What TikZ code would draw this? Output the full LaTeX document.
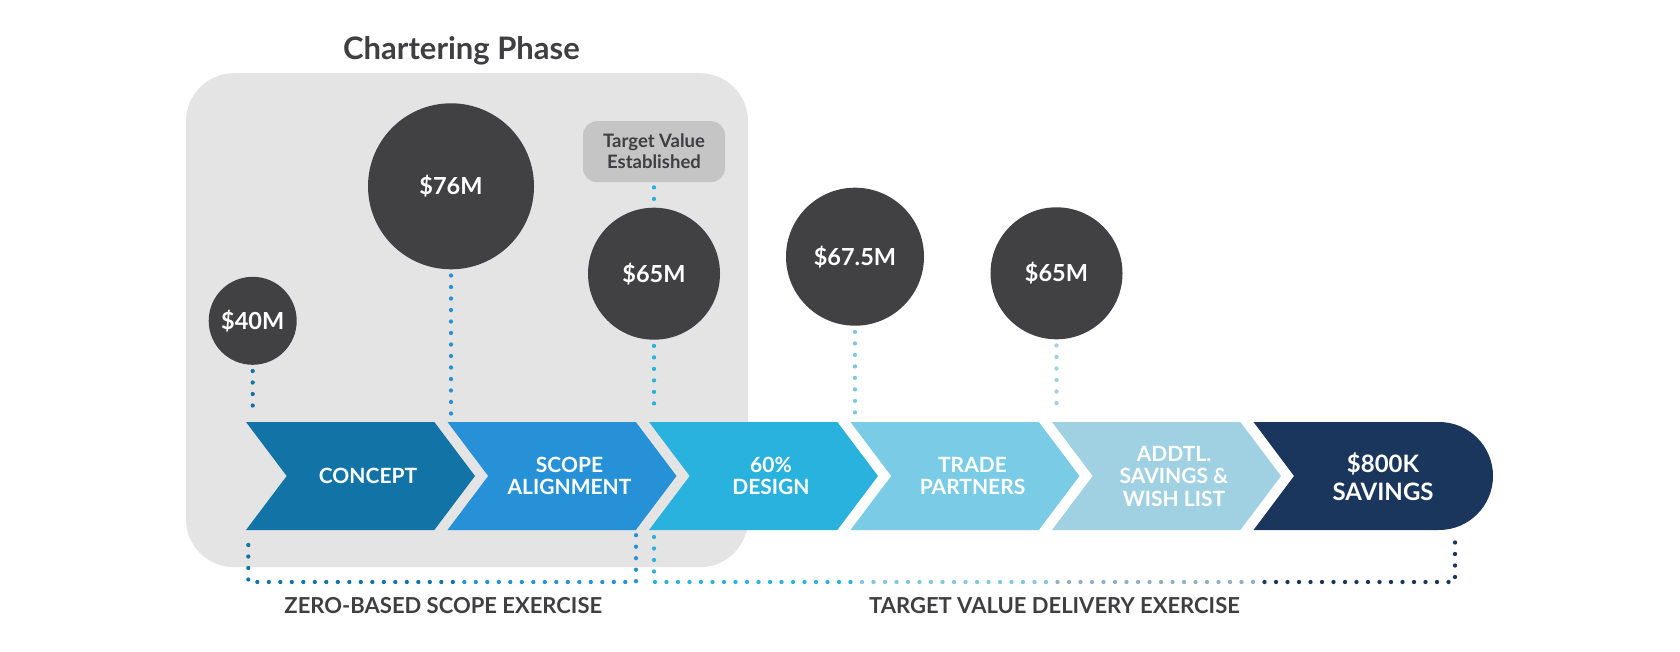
\documentclass[tikz,border=0pt]{standalone}
\usepackage{fontspec}
\setmainfont{Lato}
\usepackage{tikz}
\usetikzlibrary{positioning,shapes.symbols}
\usepackage{xcolor}

\definecolor{darkcirc}{HTML}{414143}
\definecolor{panelgray}{HTML}{E5E4E4}
\definecolor{taggray}{HTML}{C5C5C5}
\definecolor{inkgray}{HTML}{3F3F41}
\definecolor{colConcept}{HTML}{1274A6}
\definecolor{colScope}{HTML}{2691D6}
\definecolor{colDesign}{HTML}{2AB2DF}
\definecolor{colTrade}{HTML}{7ACCE6}
\definecolor{colAddtl}{HTML}{A0D1E2}
\definecolor{colSave}{HTML}{1B365C}
\definecolor{dotTrade}{HTML}{80C6DF}
\definecolor{dotAddtl}{HTML}{8FB0C4}

\begin{document}
\begin{tikzpicture}[
    x=1pt, y=-1pt,
    panel/.style={fill=panelgray, rounded corners=48pt, minimum width=562pt, minimum height=494pt, inner sep=0pt},
    phase/.style={text=inkgray, font=\bfseries\fontsize{31}{36}\selectfont, anchor=base},
    money/.style={circle, fill=darkcirc, text=white, inner sep=0pt, text height=16.8pt, text depth=0pt, font=\bfseries\fontsize{23.5}{26}\selectfont},
    tag/.style={fill=taggray, rounded corners=14pt, minimum width=142pt, minimum height=61pt, inner sep=0pt, align=center, text=inkgray, font=\bfseries\fontsize{18.5}{21}\selectfont},
    chev/.style={signal, signal from=west, signal to=east, signal pointer angle=106, minimum width=229pt, minimum height=108pt, inner sep=0pt, outer sep=0pt},
    chevtext/.style={text=white, align=center, font=\bfseries\fontsize{21}{22.5}\selectfont},
    exercise/.style={text=inkgray, font=\bfseries\fontsize{22}{26}\selectfont, anchor=base},
    dots/.style={line width=4.3pt, line cap=round, dash pattern=on 0pt off 11.5pt}
]
    \useasboundingbox (0,0) rectangle (1680,652);

    \node[panel] (charter) at (467,320.2) {};
    \node[phase] (phase) at (461.5,60) {Chartering Phase};

    \node[chev, fill=colConcept] (concept) at (360.5,476) {};
    \node[chev, fill=colScope] (scope) at (562,476) {};
    \node[chev, fill=colDesign] (design) at (763.5,476) {};
    \node[chev, fill=colTrade] (trade) at (965,476) {};
    \node[chev, fill=colAddtl] (addtl) at (1166.5,476) {};
    \fill[colSave] (1253.5,422) -- (1439,422) arc[start angle=90, end angle=-90, radius=54pt] -- (1253.5,530) -- (1294,476) -- cycle;

    \node[chevtext] (concept-t) at ([xshift=7.5pt]concept.center) {CONCEPT};
    \node[chevtext] (scope-t) at ([xshift=7.5pt]scope.center) {SCOPE\\ALIGNMENT};
    \node[chevtext] (design-t) at ([xshift=7.5pt]design.center) {60\%\\DESIGN};
    \node[chevtext] (trade-t) at ([xshift=7.5pt]trade.center) {TRADE\\PARTNERS};
    \node[chevtext] (addtl-t) at ([xshift=7.5pt]addtl.center) {ADDTL.\\SAVINGS \&\\WISH LIST};
    \node[chevtext, font=\bfseries\fontsize{24}{28}\selectfont] (savings) at (1383,477) {\$800K\\SAVINGS};

    \node[money, minimum size=88pt] (c40) at (252.7,320.8) {\$40M};
    \node[money, minimum size=166pt] (c76) at (451,186.3) {\$76M};
    \node[money, minimum size=132pt] (c65a) at (654,273.7) {\$65M};
    \node[money, minimum size=138pt] (c67) at (855,256.7) {\$67.5M};
    \node[money, minimum size=132pt] (c65b) at (1056.5,273.3) {\$65M};
    \node[tag] (target) at (654,151.7) {Target Value\\Established};

    \draw[dots, colConcept, shorten <=6pt, shorten >=8pt] (c40) -- (c40 |- concept.north);
    \draw[dots, colScope, shorten <=6pt, shorten >=8pt] (c76) -- (c76 |- scope.north);
    \draw[dots, colDesign, shorten <=6pt, shorten >=8pt] (c65a) -- (c65a |- design.north);
    \draw[dots, colDesign, shorten <=5pt, shorten >=8pt] (target) -- (c65a);
    \draw[dots, dotTrade, shorten <=6pt, shorten >=8pt] (c67) -- (c67 |- trade.north);
    \draw[dots, colAddtl, shorten <=6pt, shorten >=8pt] (c65b) -- (c65b |- addtl.north);

    \coordinate (zb1) at (248.3,545);
    \coordinate (zb2) at (452.8,582);
    \coordinate (zb3) at (464.3,582);
    \coordinate (zb4) at (636,535);
    \draw[dots, colConcept] (zb1) |- (zb2);
    \draw[dots, colScope] (zb3) -| (zb4);

    \coordinate (tb1) at (654,537);
    \coordinate (tb2) at (850.5,582);
    \coordinate (tb3) at (862,582);
    \coordinate (tb4) at (1046,582);
    \coordinate (tb5) at (1057.5,582);
    \coordinate (tb6) at (1253,582);
    \coordinate (tb7) at (1264.5,582);
    \coordinate (tb8) at (1455,540);
    \draw[dots, colDesign] (tb1) |- (tb2);
    \draw[dots, dotTrade] (tb3) -- (tb4);
    \draw[dots, dotAddtl] (tb5) -- (tb6);
    \draw[dots, colSave] (tb7) -| (tb8);

    \node[exercise] (zero) at (443.3,613.3) {ZERO-BASED SCOPE EXERCISE};
    \node[exercise] (delivery) at (1054.5,613.3) {TARGET VALUE DELIVERY EXERCISE};
\end{tikzpicture}
\end{document}
